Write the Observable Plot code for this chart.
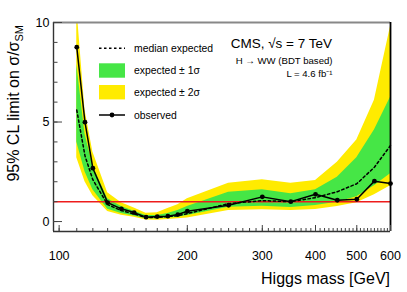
<!DOCTYPE html>
<html>
<head>
<meta charset="utf-8">
<script src="https://cdn.jsdelivr.net/npm/d3@7"></script>
<script src="https://cdn.jsdelivr.net/npm/@observablehq/plot@0.6"></script>
<style>
  html, body { margin: 0; padding: 0; background: white; }
  svg { display: block; }
</style>
</head>
<body>
<div id="chart"></div>
<script>
// Higgs mass points [GeV]
const mass      = [110, 115, 120, 130, 140, 150, 160, 170, 180, 190, 200, 250, 300, 350, 400, 450, 500, 550, 600];
const observed  = [8.76, 4.99, 2.68, 0.95, 0.64, 0.45, 0.22, 0.25, 0.27, 0.35, 0.52, 0.82, 1.24, 1.00, 1.37, 1.07, 1.12, 2.03, 1.91];
const expMedian = [5.6, 3.3, 2.1, 0.85, 0.55, 0.38, 0.20, 0.20, 0.25, 0.30, 0.40, 0.90, 1.05, 1.00, 1.20, 1.50, 1.90, 2.73, 3.82];
const exp1Lo    = [4.0, 2.5, 1.6, 0.62, 0.40, 0.28, 0.14, 0.14, 0.18, 0.22, 0.30, 0.72, 0.77, 0.70, 0.80, 0.97, 1.25, 1.80, 2.40];
const exp1Hi    = [7.9, 4.4, 2.8, 1.15, 0.75, 0.52, 0.30, 0.30, 0.40, 0.55, 0.75, 1.47, 1.60, 1.40, 1.60, 2.23, 3.20, 4.60, 6.25];
const exp2Lo    = [3.2, 2.0, 1.3, 0.50, 0.32, 0.22, 0.08, 0.06, 0.10, 0.14, 0.18, 0.55, 0.59, 0.55, 0.60, 0.75, 0.95, 1.35, 1.80];
const exp2Hi    = [10.8, 5.6, 3.5, 1.45, 0.95, 0.68, 0.42, 0.44, 0.65, 0.85, 1.15, 1.93, 2.10, 1.93, 2.06, 2.98, 4.10, 6.10, 9.80];

const xMajor = [100, 200, 300, 400, 500, 600];
const xMinor = d3.range(100, 601, 10);
const yMajor = [0, 5, 10];
const yMinor = d3.range(0, 11, 1);
const xDomain = [97, 600];
const yDomain = [-0.5, 10];
const smLine = [1];

const legendItems = ["median expected", "expected \u00b1 1\u03c3", "expected \u00b1 2\u03c3", "observed"];

const data = mass.map((m, i) => ({
  m, obs: observed[i], med: expMedian[i],
  lo1: exp1Lo[i], hi1: exp1Hi[i], lo2: exp2Lo[i], hi2: exp2Hi[i]
}));

const YELLOW = "#ffeb00";
const GREEN = "#46e646";
const FONT = "'Liberation Sans', Arial, Helvetica, sans-serif";

const chart = Plot.plot({
  width: 407,
  height: 292,
  marginLeft: 53,
  marginRight: 17,
  marginTop: 22,
  marginBottom: 61,
  x: {type: "log", domain: xDomain, label: null},
  y: {domain: yDomain, label: null},
  style: {fontFamily: FONT, background: "white", color: "black"},
  marks: [
    Plot.areaY(data, {x: "m", y1: "lo2", y2: "hi2", fill: YELLOW, clip: true}),
    Plot.areaY(data, {x: "m", y1: "lo1", y2: "hi1", fill: GREEN, clip: true}),
    Plot.ruleY(smLine, {stroke: "#ee1c1c", strokeWidth: 1.5}),
    Plot.lineY(data, {x: "m", y: "med", stroke: "black", strokeWidth: 1.5, strokeDasharray: "2.5,2.5"}),
    Plot.lineY(data, {x: "m", y: "obs", stroke: "black", strokeWidth: 1.5}),
    Plot.dot(data, {x: "m", y: "obs", r: 2.4, fill: "black", stroke: null}),
    // frame
    Plot.ruleY([yDomain[1]], {stroke: "#888", strokeWidth: 2.2}),
    Plot.ruleX([xDomain[1]], {stroke: "black", strokeWidth: 1.8}),
    Plot.ruleX([xDomain[0]], {stroke: "#333", strokeWidth: 1.4}),
    Plot.ruleY([yDomain[0]], {stroke: "#333", strokeWidth: 1.4}),
    // axes
    Plot.axisX({ticks: xMinor, tickSize: -3, text: null, stroke: "#444", label: null}),
    Plot.axisX({ticks: xMajor, tickSize: -6, text: null, stroke: "#444", label: null}),
    Plot.axisX({ticks: xMajor, tickSize: 0, tickPadding: 20, fontSize: 12.5, tickFormat: d => String(d), label: null}),
    Plot.axisY({ticks: yMinor, tickSize: -4.5, text: null, stroke: "#444", label: null}),
    Plot.axisY({ticks: yMajor, tickSize: -9, text: null, stroke: "#444", label: null}),
    Plot.axisY({ticks: yMajor, tickSize: 0, tickPadding: 4, fontSize: 12.5, tickFormat: d => String(d), label: null})
  ]
});

document.getElementById("chart").appendChild(chart);

const svg = d3.select(chart);
const g = svg.append("g").attr("font-family", FONT).attr("fill", "black").attr("text-anchor", "start");

// X axis title
g.append("text").attr("x", 390).attr("y", 283.5).attr("text-anchor", "end")
  .attr("font-size", 16).text("Higgs mass [GeV]");

// Y axis title with subscript
const yt = g.append("text").attr("transform", "translate(18.5,25) rotate(-90)")
  .attr("text-anchor", "end").attr("font-size", 16);
yt.append("tspan").text("95% CL limit on \u03c3/\u03c3");
yt.append("tspan").attr("font-size", 11).attr("dy", 4).text("SM");

// Annotations
g.append("text").attr("x", 332).attr("y", 48.3).attr("text-anchor", "end")
  .attr("font-size", 13.5).text("CMS, \u221as = 7 TeV");
g.append("text").attr("x", 332.5).attr("y", 63.5).attr("text-anchor", "end")
  .attr("font-size", 9.6).text("H \u2192 WW (BDT based)");
g.append("text").attr("x", 332.5).attr("y", 77).attr("text-anchor", "end")
  .attr("font-size", 9.6).text("L = 4.6 fb\u207b\u00b9");

// Legend
const lx0 = 99, lx1 = 125, tx = 134;
g.append("line").attr("x1", lx0).attr("x2", lx1).attr("y1", 48.3).attr("y2", 48.3)
  .attr("stroke", "black").attr("stroke-width", 1.5).attr("stroke-dasharray", "2.5,2.5");
g.append("rect").attr("x", lx0).attr("y", 63.3).attr("width", lx1 - lx0).attr("height", 14.4).attr("fill", GREEN);
g.append("rect").attr("x", lx0).attr("y", 85).attr("width", lx1 - lx0).attr("height", 14.4).attr("fill", YELLOW);
g.append("line").attr("x1", lx0).attr("x2", lx1).attr("y1", 115).attr("y2", 115)
  .attr("stroke", "black").attr("stroke-width", 1.5);
g.append("circle").attr("cx", (lx0 + lx1) / 2).attr("cy", 115).attr("r", 2.4).attr("fill", "black");
const ly = [51.8, 74, 95.7, 118.5];
legendItems.forEach((t, i) => {
  g.append("text").attr("x", tx).attr("y", ly[i]).attr("text-anchor", "start")
    .attr("font-size", 10.4).text(t);
});
</script>
</body>
</html>
